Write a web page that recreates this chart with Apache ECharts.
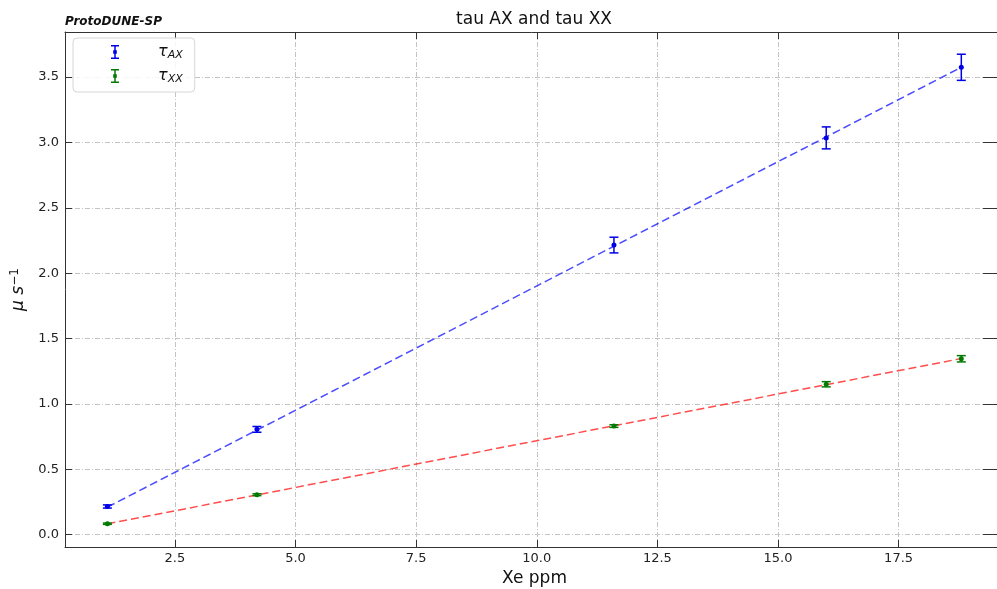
<!DOCTYPE html>
<html>
<head>
<meta charset="utf-8">
<script src="https://cdn.jsdelivr.net/npm/echarts@6/dist/echarts.min.js"></script>
<style>html,body{margin:0;padding:0;background:#fff}#c{width:997px;height:589px}</style>
</head>
<body>
<div id="c"></div>
<script>
// ---- data ----
const xePpm      = [1.1, 4.2, 11.6, 16.0, 18.8];
const tauAX      = [0.215, 0.805, 2.215, 3.035, 3.575];
const tauAXErr   = [0.012, 0.022, 0.060, 0.084, 0.100];
const tauXX      = [0.083, 0.305, 0.830, 1.150, 1.345];
const tauXXErr   = [0.005, 0.007, 0.010, 0.020, 0.024];
const fitAX      = [[1.1, 0.210], [18.8, 3.575]];
const fitXX      = [[1.1, 0.082], [18.8, 1.347]];
const xTicks     = [2.5, 5.0, 7.5, 10.0, 12.5, 15.0, 17.5];
const yTicks     = [0.0, 0.5, 1.0, 1.5, 2.0, 2.5, 3.0, 3.5];
const xRange     = [0.2215, 19.685];
const yRange     = [-0.095, 3.845];

const FONT = 'DejaVu Sans';
const BLUE = '#0000e6';
const GREEN = '#007a00';

const errData = (ys, es) => xePpm.map((x, i) => [x, ys[i], es[i]]);
const ptData = ys => xePpm.map((x, i) => [x, ys[i]]);

function errRender(color) {
  return function (params, api) {
    const x = api.value(0), y = api.value(1), e = api.value(2);
    const hi = api.coord([x, y + e]);
    const lo = api.coord([x, y - e]);
    const w = 4.5;
    const st = { stroke: color, lineWidth: 1.5 };
    return {
      type: 'group',
      children: [
        { type: 'line', shape: { x1: hi[0], y1: hi[1], x2: lo[0], y2: lo[1] }, style: st },
        { type: 'line', shape: { x1: hi[0] - w, y1: hi[1], x2: hi[0] + w, y2: hi[1] }, style: st },
        { type: 'line', shape: { x1: lo[0] - w, y1: lo[1], x2: lo[0] + w, y2: lo[1] }, style: st }
      ]
    };
  };
}

const gridLine = { show: true, lineStyle: { color: '#c4c4c4', width: 1, type: [5, 2, 1, 2] } };
// errorbar icon, centred in a 70x14 box (degenerate corner points fix the bounds)
const ICON = 'path://M0,0L0,0 M70,14L70,14 M31,0h8v1.5h-8z M34.25,0h1.5v14h-1.5z M31,12.5h8v1.5h-8z M33.2,5.2h3.6v3.6h-3.6z';

const option = {
  animation: false,
  backgroundColor: '#fff',
  title: [
    { text: 'tau AX and tau XX', left: 534, top: 11, textAlign: 'center', padding: 0,
      textStyle: { fontFamily: FONT, fontSize: 17, fontWeight: 'normal', color: '#111' } },
    { text: 'ProtoDUNE-SP', left: 65, top: 16, padding: 0,
      textStyle: { fontFamily: FONT, fontSize: 12, fontWeight: 'bold', fontStyle: 'italic', color: '#111' } }
  ],
  grid: { left: 65, width: 939, top: 32, bottom: 42, containLabel: false, outerBoundsMode: 'none' },
  legend: {
    orient: 'vertical', left: 73, top: 38,
    padding: [6, 12, 7, 7], itemGap: 7, itemWidth: 70, itemHeight: 14,
    borderColor: '#d6d6d6', borderWidth: 1, borderRadius: 4, backgroundColor: 'rgba(255,255,255,0.85)',
    data: [
      { name: 'tau_AX', icon: ICON, itemStyle: { color: BLUE } },
      { name: 'tau_XX', icon: ICON, itemStyle: { color: GREEN } }
    ],
    formatter: n => n === 'tau_AX' ? '{t|τ}{s|AX}' : '{t|τ}{s|XX}',
    textStyle: {
      fontFamily: FONT, color: '#111',
      rich: {
        t: { fontFamily: FONT, fontSize: 16, fontStyle: 'italic', color: '#111', padding: [0, 0, 0, 3] },
        s: { fontFamily: FONT, fontSize: 11, fontStyle: 'italic', color: '#111', padding: [7, 0, 0, 0] }
      }
    }
  },
  xAxis: [
    {
      type: 'value', min: xRange[0], max: xRange[1], position: 'bottom',
      name: 'Xe ppm', nameLocation: 'middle', nameGap: 22,
      nameTextStyle: { fontFamily: FONT, fontSize: 17, color: '#111' },
      axisLine: { show: true, onZero: false, lineStyle: { color: '#333', width: 1 } },
      axisTick: { show: true, inside: true, length: 7, customValues: xTicks, lineStyle: { color: '#333' } },
      axisLabel: { customValues: xTicks, margin: 5, fontFamily: FONT, fontSize: 13, color: '#222',
        formatter: v => v.toFixed(1) },
      splitLine: gridLine
    },
    {
      type: 'value', min: xRange[0], max: xRange[1], position: 'top',
      axisLine: { show: true, onZero: false, lineStyle: { color: '#333', width: 1 } },
      axisTick: { show: true, inside: true, length: 7, customValues: xTicks, lineStyle: { color: '#333' } },
      axisLabel: { show: false, customValues: xTicks },
      splitLine: { show: false }
    }
  ],
  yAxis: [
    {
      type: 'value', min: yRange[0], max: yRange[1], position: 'left',
      name: '{a|μ s}{b|−1}', nameLocation: 'middle', nameGap: 30, nameRotate: 90,
      nameTextStyle: {
        fontFamily: FONT, fontSize: 17, color: '#111',
        rich: {
          a: { fontFamily: FONT, fontSize: 17, fontStyle: 'italic', color: '#111' },
          b: { fontFamily: FONT, fontSize: 12, color: '#111', padding: [0, 0, 9, 0] }
        }
      },
      axisLine: { show: true, onZero: false, lineStyle: { color: '#333', width: 1 } },
      axisTick: { show: true, inside: true, length: 7, customValues: yTicks, lineStyle: { color: '#333' } },
      axisLabel: { customValues: yTicks, margin: 6, fontFamily: FONT, fontSize: 13, color: '#222',
        formatter: v => v.toFixed(1) },
      splitLine: gridLine
    },
    {
      type: 'value', min: yRange[0], max: yRange[1], position: 'right',
      axisLine: { show: true, onZero: false, lineStyle: { color: '#333', width: 1 } },
      axisTick: { show: true, inside: true, length: 21, customValues: yTicks, lineStyle: { color: '#333' } },
      axisLabel: { show: false, customValues: yTicks },
      splitLine: { show: false }
    }
  ],
  series: [
    { name: 'fitAX', type: 'line', data: fitAX, symbol: 'none', z: 2,
      lineStyle: { color: 'rgba(0,0,255,0.7)', width: 1.5, type: [8, 4] } },
    { name: 'fitXX', type: 'line', data: fitXX, symbol: 'none', z: 2,
      lineStyle: { color: 'rgba(255,0,0,0.7)', width: 1.5, type: [8, 4] } },
    { name: 'tau_AX', type: 'custom', renderItem: errRender(BLUE), data: errData(tauAX, tauAXErr),
      encode: { x: 0, y: 1 }, itemStyle: { color: BLUE }, z: 3 },
    { name: 'tau_XX', type: 'custom', renderItem: errRender(GREEN), data: errData(tauXX, tauXXErr),
      encode: { x: 0, y: 1 }, itemStyle: { color: GREEN }, z: 3 },
    { name: 'ptAX', type: 'scatter', data: ptData(tauAX), symbolSize: 5, itemStyle: { color: BLUE, opacity: 1 }, z: 4 },
    { name: 'ptXX', type: 'scatter', data: ptData(tauXX), symbolSize: 5, itemStyle: { color: GREEN, opacity: 1 }, z: 4 }
  ]
};

const chart = echarts.init(document.getElementById('c'), null, { renderer: 'canvas' });
chart.setOption(option);
</script>
</body>
</html>
